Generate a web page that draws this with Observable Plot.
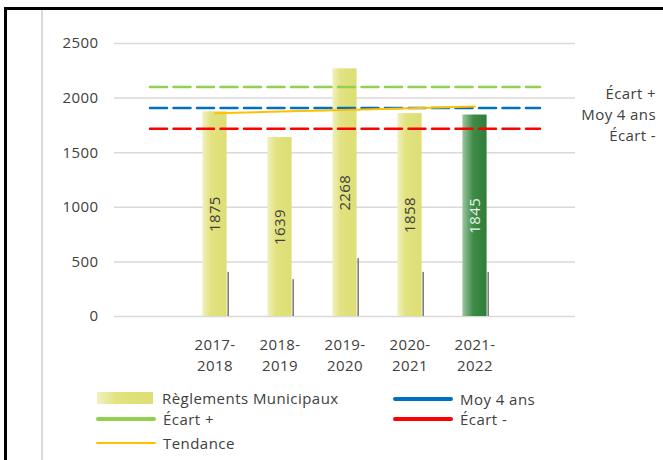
<!DOCTYPE html>
<html><head><meta charset="utf-8">
<script src="https://cdn.jsdelivr.net/npm/d3@7"></script>
<script src="https://cdn.jsdelivr.net/npm/@observablehq/plot@0.6"></script>
<style>
body{margin:0;background:#fff;}
#wrap{position:relative;width:663px;height:460px;overflow:hidden;font-family:"Open Sans",sans-serif;color:#404040;background:#fff;}
#chart{position:absolute;left:0;top:0;}
.frame{position:absolute;background:#000;}
#vline{position:absolute;left:40.5px;top:10px;width:2px;height:450px;background:#d9d9d9;}
.leg{position:absolute;display:flex;align-items:center;font-size:15px;letter-spacing:0.45px;line-height:18px;white-space:nowrap;}
.sw{flex:none;margin-right:8px;}
</style></head>
<body>
<div id="wrap">
  <div id="chart"></div>
  <div class="frame" style="left:4px;top:7px;width:659px;height:3px;"></div>
  <div class="frame" style="left:4px;top:7px;width:3px;height:453px;"></div>
  <div id="vline"></div>
  <div id="legend"></div>
</div>
<script>
const categories = ["", "2017-2018", "2018-2019", "2019-2020", "2020-2021", "2021-2022", " "];
const years = ["2017-2018", "2018-2019", "2019-2020", "2020-2021", "2021-2022"];
const reglements = [1875, 1639, 2268, 1858, 1845];
const secondaire = [404, 337, 530, 404, 404];
const tendance = [1862, 1877, 1892, 1907, 1922];
const moy4ans = 1910;
const ecartPlus = 2101;
const ecartMoins = 1719;
const yTicks = [0, 500, 1000, 1500, 2000, 2500];
const highlight = "2021-2022";

const bars = years.map((c, i) => ({cat: c, value: reglements[i], sec: secondaire[i], trend: tendance[i]}));
const refLines = [
  {name: "Écart +", value: ecartPlus, color: "#92D050"},
  {name: "Moy 4 ans", value: moy4ans, color: "#0070C0"},
  {name: "Écart -", value: ecartMoins, color: "#FF0000"}
];
const ends = [categories[0], categories[categories.length - 1]];

const plot = Plot.plot({
  width: 663, height: 380,
  marginTop: 43, marginBottom: 64, marginLeft: 114, marginRight: 88,
  style: {fontFamily: "Open Sans", fontSize: "15px", letterSpacing: "0.4px", color: "#404040", background: "transparent", overflow: "visible"},
  x: {type: "band", domain: categories, padding: 0, label: null},
  y: {domain: [0, 2500], label: null},
  marks: [
    Plot.gridY(yTicks, {stroke: "#d9d9d9", strokeOpacity: 1, strokeWidth: 1.5}),
    Plot.axisY(yTicks, {tickSize: 0, tickPadding: 16, fontSize: 15, fill: "#404040", label: null, tickFormat: d => String(d)}),
    Plot.axisX({tickSize: 0, tickPadding: 19, lineHeight: 1.4, fontSize: 15, fill: "#404040", label: null,
      tickFormat: d => d.trim() ? d.replace("-", "-\n") : ""}),
    Plot.barY(bars.filter(d => d.cat !== highlight), {x: "cat", y: "value", fill: "url(#gradYellow)", insetLeft: 20.4, insetRight: 20.4}),
    Plot.barY(bars.filter(d => d.cat === highlight), {x: "cat", y: "value", fill: "url(#gradGreen)", insetLeft: 20.4, insetRight: 20.4}),
    Plot.barY(bars, {x: "cat", y: "sec", fill: "#7f7f7f", insetLeft: 45.4, insetRight: 18}),
    ...refLines.map(r => Plot.line(ends, {x: d => d, y: () => r.value, stroke: r.color, strokeWidth: 2.5, strokeDasharray: "17,6.5"})),
    Plot.line(bars, {x: "cat", y: "trend", stroke: "#FFC000", strokeWidth: 2}),
    Plot.text(bars.filter(d => d.cat !== highlight), {x: "cat", y: d => d.value / 2, text: d => String(d.value), rotate: -90, fill: "#404040", fontSize: 15}),
    Plot.text(bars.filter(d => d.cat === highlight), {x: "cat", y: d => d.value / 2, text: d => String(d.value), rotate: -90, fill: "#ffffff", fillOpacity: 0.9, fontSize: 15}),
    Plot.text(refLines, {x: () => ends[1], y: "value", text: "name", dx: 116, dy: 7, textAnchor: "end", fontSize: 15, fill: "#404040"})
  ]
});

const defs = d3.select(plot).insert("defs", ":first-child");
const gy = defs.append("linearGradient").attr("id", "gradYellow").attr("x1", 0).attr("x2", 1).attr("y1", 0).attr("y2", 0);
gy.append("stop").attr("offset", "0%").attr("stop-color", "#F0F1C0");
gy.append("stop").attr("offset", "35%").attr("stop-color", "#E2E27F");
gy.append("stop").attr("offset", "100%").attr("stop-color", "#DEDE76");
const gg = defs.append("linearGradient").attr("id", "gradGreen").attr("x1", 0).attr("x2", 1).attr("y1", 0).attr("y2", 0);
gg.append("stop").attr("offset", "0%").attr("stop-color", "#9CC6A0");
gg.append("stop").attr("offset", "45%").attr("stop-color", "#3D8B47");
gg.append("stop").attr("offset", "100%").attr("stop-color", "#2E7D39");
document.getElementById("chart").appendChild(plot);

// Legend
const legendItems = [
  {name: "Règlements Municipaux", kind: "rect", left: 97, top: 398},
  {name: "Moy 4 ans", kind: "line", color: "#0070C0", w: 4, left: 393, top: 399},
  {name: "Écart +", kind: "line", color: "#92D050", w: 4, left: 96, top: 419},
  {name: "Écart -", kind: "line", color: "#FF0000", w: 4, left: 393, top: 419},
  {name: "Tendance", kind: "line", color: "#FFC000", w: 2, left: 96, top: 443}
];
const leg = document.getElementById("legend");
legendItems.forEach(it => {
  const div = document.createElement("div");
  div.className = "leg";
  div.style.left = it.left + "px";
  div.style.top = (it.top - 9) + "px";
  const sw = document.createElement("span");
  sw.className = "sw";
  if (it.kind === "rect") {
    sw.style.cssText = "width:56px;height:12px;background:linear-gradient(to right,#F0F1C0,#E2E27F 35%,#DEDE76);margin-right:9px;";
  } else {
    sw.style.cssText = `width:60px;height:${it.w}px;background:${it.color};border-radius:2px;margin-right:7px;`;
  }
  const tx = document.createElement("span");
  tx.textContent = it.name;
  div.appendChild(sw); div.appendChild(tx);
  leg.appendChild(div);
});
</script>
</body></html>
